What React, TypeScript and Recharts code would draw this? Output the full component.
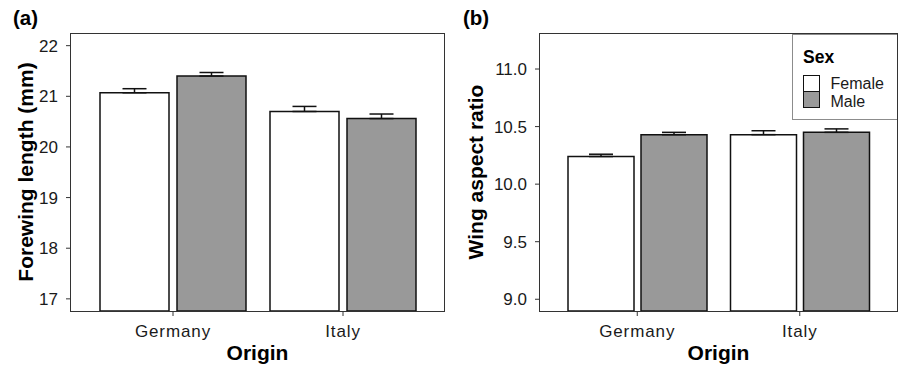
import React from "react";
import { Bar, BarChart, ErrorBar, Label, Legend, XAxis, YAxis } from "recharts";

const origins = ["Germany", "Italy"];

// panel (a): forewing length (mm)
const forewingFemale = [21.07, 20.7];
const forewingMale = [21.4, 20.56];
const forewingFemaleSe = [0.08, 0.1];
const forewingMaleSe = [0.07, 0.09];
const forewingTicks = [17, 18, 19, 20, 21, 22];

// panel (b): wing aspect ratio
const aspectFemale = [10.24, 10.43];
const aspectMale = [10.43, 10.45];
const aspectFemaleSe = [0.02, 0.034];
const aspectMaleSe = [0.02, 0.03];
const aspectTicks = [9.0, 9.5, 10.0, 10.5, 11.0];

const sexLabels = ["Female", "Male"];

const font = "'Liberation Sans', Arial, sans-serif";
const frame = "#333333";
const maleFill = "#999999";

const forewingRows = origins.map((origin, i) => ({
  origin,
  female: forewingFemale[i],
  male: forewingMale[i],
  femaleErr: [0, forewingFemaleSe[i]],
  maleErr: [0, forewingMaleSe[i]],
}));

const aspectRows = origins.map((origin, i) => ({
  origin,
  female: aspectFemale[i],
  male: aspectMale[i],
  femaleErr: [0, aspectFemaleSe[i]],
  maleErr: [0, aspectMaleSe[i]],
}));

const yTick = { fontSize: 17, fill: "#1a1a1a", fontFamily: font };
const xTick = { fontSize: 17, fill: "#1a1a1a", fontFamily: font, letterSpacing: 0.9 };

function YTitle({ viewBox, text }: any) {
  const cx = viewBox.x + 33;
  const cy = viewBox.y + viewBox.height / 2;
  return (
    <text
      x={cx}
      y={cy}
      transform={`rotate(-90 ${cx} ${cy})`}
      textAnchor="middle"
      fontFamily={font}
      fontWeight="bold"
      fontSize={21}
      fill="#000"
    >
      {text}
    </text>
  );
}

function SexLegend({ payload }: any) {
  const items = (payload || []).slice(0, 2);
  return (
    <div
      style={{
        position: "relative",
        width: 106,
        height: 86,
        boxSizing: "border-box",
        border: "1px solid #8c8c8c",
        background: "#fff",
        fontFamily: font,
        textAlign: "left",
      }}
    >
      <div style={{ position: "absolute", left: 10, top: 13.5, fontSize: 17.5, lineHeight: "17.5px", fontWeight: "bold", color: "#000" }}>
        Sex
      </div>
      {items.map((item: any, i: number) => (
        <React.Fragment key={item.value}>
          <div
            style={{
              position: "absolute",
              left: 10,
              top: 40 + i * 16,
              width: 17,
              height: 17,
              boxSizing: "border-box",
              border: "1.5px solid #111",
              background: item.payload?.fill ?? item.color,
            }}
          />
          <div style={{ position: "absolute", left: 37.5, top: 40.8 + i * 18.4, fontSize: 16, lineHeight: "16px", color: "#1a1a1a" }}>
            {item.value}
          </div>
        </React.Fragment>
      ))}
    </div>
  );
}

// panel border (ggplot theme_bw frame)
function Frame({ left, top, width, height }: any) {
  return (
    <div
      style={{
        position: "absolute",
        left,
        top,
        width,
        height,
        boxSizing: "border-box",
        border: `1px solid ${frame}`,
        pointerEvents: "none",
      }}
    />
  );
}

export default function App() {
  return (
    <div style={{ position: "absolute", left: 0, top: 0, width: 898, height: 366, background: "#fff", fontFamily: font }}>
      <div style={{ position: "absolute", left: 13, top: 8, fontSize: 20.5, lineHeight: "20px", fontWeight: "bold" }}>(a)</div>
      <div style={{ position: "absolute", left: 463, top: 8, fontSize: 20.5, lineHeight: "20px", fontWeight: "bold" }}>(b)</div>

      <div style={{ position: "absolute", left: 0, top: 0 }}>
        <BarChart width={448} height={366} data={forewingRows} margin={{ top: 33, right: 4, bottom: 0, left: 0 }} barGap={8}>
          <XAxis
            dataKey="origin"
            height={55}
            padding={{ left: 17, right: 16 }}
            tick={xTick}
            tickSize={5}
            tickMargin={9}
            tickLine={{ stroke: frame }}
            axisLine={false}
          >
            <Label value="Origin" position="insideBottom" offset={6} fontFamily={font} fontWeight="bold" fontSize={21} fill="#000" />
          </XAxis>
          <YAxis
            width={71}
            domain={[16.76, 22.25]}
            allowDataOverflow
            ticks={forewingTicks}
            tick={yTick}
            tickSize={5}
            tickMargin={8}
            tickLine={{ stroke: frame }}
            axisLine={false}
          >
            <Label content={(p: any) => <YTitle viewBox={p.viewBox} text="Forewing length (mm)" />} />
          </YAxis>
          <Bar dataKey="female" name={sexLabels[0]} fill="#ffffff" stroke="#111" strokeWidth={1.5} barSize={69} isAnimationActive={false}>
            <ErrorBar dataKey="femaleErr" direction="y" width={12} stroke="#111" strokeWidth={1.5} />
          </Bar>
          <Bar dataKey="male" name={sexLabels[1]} fill={maleFill} stroke="#111" strokeWidth={1.5} barSize={69} isAnimationActive={false}>
            <ErrorBar dataKey="maleErr" direction="y" width={12} stroke="#111" strokeWidth={1.5} />
          </Bar>
        </BarChart>
        <Frame left={70} top={33} width={375} height={279} />
      </div>

      <div style={{ position: "absolute", left: 450, top: 0 }}>
        <BarChart width={448} height={366} data={aspectRows} margin={{ top: 33, right: 1, bottom: 0, left: 0 }} barGap={7}>
          <XAxis
            dataKey="origin"
            height={55}
            padding={{ left: 16, right: 16 }}
            tick={xTick}
            tickSize={5}
            tickMargin={9}
            tickLine={{ stroke: frame }}
            axisLine={false}
          >
            <Label value="Origin" position="insideBottom" offset={6} fontFamily={font} fontWeight="bold" fontSize={21} fill="#000" />
          </XAxis>
          <YAxis
            width={90}
            domain={[8.898, 11.313]}
            allowDataOverflow
            ticks={aspectTicks}
            tickFormatter={(v) => Number(v).toFixed(1)}
            tick={yTick}
            tickSize={5}
            tickMargin={8}
            tickLine={{ stroke: frame }}
            axisLine={false}
          >
            <Label content={(p: any) => <YTitle viewBox={p.viewBox} text="Wing aspect ratio" />} />
          </YAxis>
          <Bar dataKey="female" name={sexLabels[0]} fill="#ffffff" stroke="#111" strokeWidth={1.5} barSize={66} isAnimationActive={false}>
            <ErrorBar dataKey="femaleErr" direction="y" width={12} stroke="#111" strokeWidth={1.5} />
          </Bar>
          <Bar dataKey="male" name={sexLabels[1]} fill={maleFill} stroke="#111" strokeWidth={1.5} barSize={66} isAnimationActive={false}>
            <ErrorBar dataKey="maleErr" direction="y" width={12} stroke="#111" strokeWidth={1.5} />
          </Bar>
          <Legend
            layout="horizontal"
            verticalAlign="middle"
            align="center"
            wrapperStyle={{ top: 34, left: 342, width: 106, height: 86 }}
            content={(p: any) => <SexLegend payload={p.payload} />}
          />
        </BarChart>
        <Frame left={89} top={33} width={359} height={279} />
      </div>
    </div>
  );
}
